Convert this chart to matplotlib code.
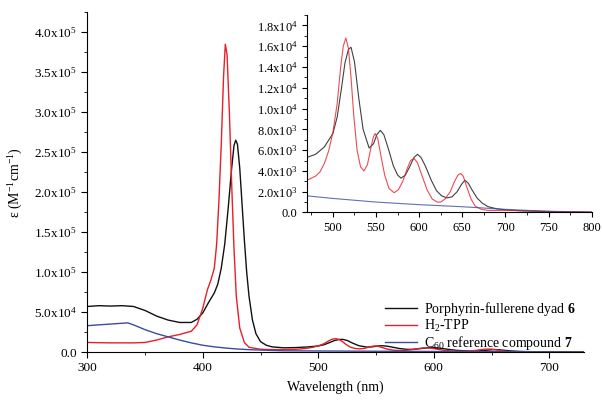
import matplotlib
matplotlib.use('Agg')
import matplotlib.pyplot as plt
from matplotlib.ticker import MultipleLocator, FuncFormatter

plt.rcParams['font.family'] = ['Liberation Serif', 'DejaVu Serif']
plt.rcParams['mathtext.fontset'] = 'custom'
plt.rcParams['mathtext.rm'] = 'Liberation Serif'
plt.rcParams['mathtext.it'] = 'Liberation Serif:italic'
plt.rcParams['mathtext.bf'] = 'Liberation Serif:bold'

# Porphyrin-fullerene dyad 6
wl_dyad = [300, 310, 320, 330, 340, 350, 360, 370, 380, 390, 395, 400, 405, 410,
           413, 416, 419, 422, 425, 427, 428.5, 430, 432, 434, 436, 438, 440, 443,
           446, 450, 455, 460, 470, 480, 490, 500, 505, 510, 514, 518, 521, 525,
           530, 535, 542, 547, 551, 555, 559, 564, 570, 575, 579, 584, 589, 594,
           598, 602, 607, 614, 620, 626, 632, 638, 644, 649, 653, 657, 661, 667,
           673, 680, 690, 700, 720, 740, 760, 800]
eps_dyad = [5.7e4, 5.8e4, 5.75e4, 5.8e4, 5.7e4, 5.2e4, 4.5e4, 4.0e4, 3.7e4, 3.7e4,
            4.1e4, 4.9e4, 6.2e4, 7.4e4, 8.5e4, 1.05e5, 1.35e5, 1.8e5, 2.3e5, 2.58e5,
            2.65e5, 2.6e5, 2.3e5, 1.85e5, 1.4e5, 1.0e5, 7.0e4, 4.0e4, 2.3e4, 1.3e4,
            8.5e3, 6.5e3, 5.3e3, 5.6e3, 6.3e3, 7.6e3, 9.2e3, 1.2e4, 1.44e4, 1.57e4,
            1.59e4, 1.45e4, 1.1e4, 8.0e3, 6.2e3, 6.6e3, 7.5e3, 7.9e3, 7.5e3, 6.2e3,
            4.5e3, 3.6e3, 3.3e3, 3.6e3, 4.4e3, 5.3e3, 5.6e3, 5.3e3, 4.5e3, 3.1e3,
            2.1e3, 1.6e3, 1.4e3, 1.5e3, 2.0e3, 2.7e3, 3.1e3, 2.8e3, 2.2e3, 1.4e3,
            9e2, 5.5e2, 3.5e2, 2.5e2, 1.5e2, 1e2, 60, 20]

# H2-TPP
wl_tpp = [300, 320, 340, 350, 360, 370, 380, 390, 395, 400, 404, 407, 410, 412,
          414, 416, 418, 419.5, 421, 423, 425, 427, 429, 432, 436, 440, 450, 460,
          470, 475, 480, 485, 490, 495, 500, 505, 509, 512, 515, 518, 521, 524,
          528, 532, 536, 540, 544, 547, 549, 552, 556, 560, 565, 571, 576, 581,
          586, 590, 594, 598, 603, 609, 615, 621, 625, 630, 636, 641, 645, 648,
          651, 655, 660, 665, 672, 680, 700, 730, 760, 800]
eps_tpp = [1.2e4, 1.15e4, 1.15e4, 1.2e4, 1.5e4, 1.9e4, 2.2e4, 2.6e4, 3.4e4, 5.5e4,
           7.8e4, 9.0e4, 1.05e5, 1.35e5, 1.9e5, 2.6e5, 3.45e5, 3.85e5, 3.72e5, 3.0e5,
           2.1e5, 1.3e5, 7.0e4, 3.0e4, 1.2e4, 6.0e3, 3.5e3, 3.1e3, 3.1e3, 3.3e3,
           3.5e3, 3.9e3, 4.7e3, 5.9e3, 7.7e3, 1.05e4, 1.4e4, 1.6e4, 1.68e4, 1.58e4,
           1.3e4, 9.5e3, 6.0e3, 4.4e3, 4.0e3, 4.6e3, 6.2e3, 7.3e3, 7.6e3, 7.1e3,
           5.3e3, 3.6e3, 2.3e3, 1.9e3, 2.2e3, 3.0e3, 4.2e3, 5.0e3, 5.2e3, 4.8e3,
           3.6e3, 2.2e3, 1.3e3, 1.0e3, 1.0e3, 1.3e3, 2.0e3, 3.0e3, 3.6e3, 3.75e3,
           3.5e3, 2.5e3, 1.3e3, 6e2, 3e2, 2e2, 2e2, 1.5e2, 1e2, 50]

# C60 reference compound 7
wl_c60 = [300, 310, 320, 330, 335, 340, 350, 360, 370, 380, 390, 400, 410, 420,
          430, 440, 450, 460, 470, 500, 550, 600, 650, 700, 750, 800]
eps_c60 = [3.3e4, 3.4e4, 3.5e4, 3.6e4, 3.65e4, 3.4e4, 2.8e4, 2.3e4, 1.9e4, 1.5e4,
           1.15e4, 8.5e3, 6.5e3, 5.0e3, 3.8e3, 3.0e3, 2.5e3, 2.0e3, 1.6e3, 1.35e3,
           1.0e3, 7.5e2, 5.5e2, 3e2, 1e2, 0]

labels = ['Porphyrin-fullerene dyad $\\mathbf{6}$', 'H$_2$-TPP',
          'C$_{60}$ reference compound $\\mathbf{7}$']
colors = ['#111111', '#e4202a', '#3c4c9e']


def sci_fmt(v, pos):
    if abs(v) < 1e-9:
        return '0.0'
    e = 0
    m = v
    while abs(m) >= 10:
        m /= 10.0
        e += 1
    return '%.1fx10$^{%d}$' % (m, e)


fig = plt.figure(figsize=(6.02, 4.07), dpi=100)

# main plot
ax = fig.add_axes([0.145, 0.135, 0.825, 0.835])
series = [(wl_dyad, eps_dyad), (wl_tpp, eps_tpp), (wl_c60, eps_c60)]
for (x, y), c, lab in zip(series, colors, labels):
    ax.plot(x, y, color=c, lw=1.0, label=lab)
ax.set_xlim(300, 730)
ax.set_ylim(0, 4.25e5)
ax.spines['top'].set_visible(False)
ax.spines['right'].set_visible(False)
ax.xaxis.set_major_locator(MultipleLocator(100))
ax.xaxis.set_minor_locator(MultipleLocator(50))
ax.yaxis.set_major_locator(MultipleLocator(5e4))
ax.yaxis.set_minor_locator(MultipleLocator(2.5e4))
ax.yaxis.set_major_formatter(FuncFormatter(sci_fmt))
ax.tick_params(which='both', direction='out', labelsize=9.5)
ax.tick_params(which='major', length=4)
ax.tick_params(which='minor', length=2.5)
ax.set_xlabel('Wavelength (nm)', fontsize=10, labelpad=4)
ax.set_ylabel('ε (M$^{-1}$cm$^{-1}$)', fontsize=10, labelpad=6)

ax.legend(loc='upper left', bbox_to_anchor=(0.628, 0.28), bbox_transform=fig.transFigure,
          frameon=False, fontsize=10, handlelength=2.3, handletextpad=0.5,
          labelspacing=0.0, borderpad=0)

# inset
axi = fig.add_axes([0.51, 0.478, 0.473, 0.485])
for (x, y), c in zip(series, colors):
    axi.plot(x, y, color=c, lw=0.8, alpha=0.8)
axi.set_xlim(470, 800)
axi.set_ylim(0, 1.9e4)
axi.spines['top'].set_visible(False)
axi.spines['right'].set_visible(False)
axi.xaxis.set_major_locator(MultipleLocator(50))
axi.xaxis.set_minor_locator(MultipleLocator(25))
axi.yaxis.set_major_locator(MultipleLocator(2e3))
axi.yaxis.set_minor_locator(MultipleLocator(1e3))
axi.yaxis.set_major_formatter(FuncFormatter(sci_fmt))
axi.tick_params(which='both', direction='out', labelsize=9)
axi.tick_params(which='major', length=3.5)
axi.tick_params(which='minor', length=2)

fig.savefig('out.png', dpi=100)
